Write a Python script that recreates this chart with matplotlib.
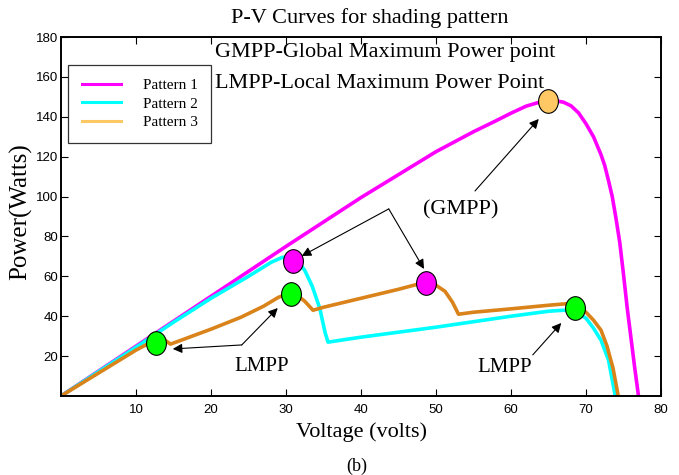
import matplotlib

matplotlib.use("Agg")
import matplotlib.pyplot as plt
from matplotlib.lines import Line2D
from matplotlib.path import Path
from matplotlib.transforms import Affine2D

# ── Data ──────────────────────────────────────────────────────
v1 = [0, 10, 20, 30, 40, 45, 50, 55, 58, 60, 62, 63.5, 65, 66, 67, 68, 69, 70,
      71, 72, 72.5, 73, 73.5, 74, 74.5, 75, 75.5, 76, 76.5, 77]
p1 = [0, 25, 50, 75, 99.5, 111, 122.5, 132.5, 138, 141.8, 145.3, 147, 148, 148, 147.3,
      145.5, 142, 136.5, 130, 121, 115.5, 108, 100, 89, 77, 61, 44, 29, 14, 0]

v2 = [0, 10, 15, 20, 25, 28, 29.5, 30.5, 31.5, 32.5, 33.5, 34.5, 35.2, 35.6,
      40, 50, 60, 65, 67, 68.5, 70, 71, 72, 73, 73.9]
p2 = [0, 24.5, 37, 49, 60, 67, 69.5, 69.8, 68, 63, 55, 44, 32, 27,
      29.5, 34.5, 40, 42.5, 43, 42.5, 39, 34, 28, 18, 0]

v3 = [0, 5, 10, 12.5, 13.5, 14.6, 20, 24, 27, 29, 30.5, 31.5, 32.5, 33.6,
      35, 40, 45, 47.5, 48.7, 50, 51.2, 52.2, 53, 55, 60, 65, 67.5, 68.5,
      70, 71, 72, 72.8, 73.6, 74.3]
p3 = [0, 11.5, 23, 28, 29, 26, 33.5, 39.5, 45, 49.5, 51.5, 50.5, 47.5, 43,
      44.5, 49, 53.5, 56, 56.8, 55.5, 52.5, 47, 41, 42, 43.7, 45.5, 46.3, 46,
      42, 38, 33, 25, 14, 0]

lmpp_v = [12.6, 30.6, 68.5]
lmpp_p = [26.8, 51.3, 44.3]
mag_v = [30.9, 48.7]
mag_p = [67.8, 56.7]
gmpp_v = [64.9]
gmpp_p = [147.9]

series_names = ["Pattern 1", "Pattern 2", "Pattern 3"]
line_colors = ["#FF00FF", "#00FFFF", "#D9831A"]
legend_colors = ["#FF00FF", "#00FFFF", "#FFC864"]

SERIF = ["Liberation Serif", "DejaVu Serif"]
NARROW = ["Liberation Sans Narrow", "Liberation Sans", "DejaVu Sans"]

fig = plt.figure(figsize=(6.79, 4.75), dpi=100)
ax = fig.add_axes([61 / 679, 79 / 475, 600 / 679, 359 / 475])

for v, p, c in zip([v1, v2, v3], [p1, p2, p3], line_colors):
    ax.plot(v, p, color=c, lw=2.6, solid_joinstyle="round", zorder=2)

# slightly tall ellipse marker, like the reference
ell = Path.unit_circle().transformed(Affine2D().scale(0.84, 1.0))
mk = dict(marker=ell, markersize=17, markeredgecolor="black", markeredgewidth=0.8,
          linestyle="none", zorder=5)
ax.plot(lmpp_v, lmpp_p, markerfacecolor="#00FF00", **mk)
ax.plot(mag_v, mag_p, markerfacecolor="#FF00FF", **mk)
ax.plot(gmpp_v, gmpp_p, markerfacecolor="#FFC864", **mk)

ax.set_xlim(0, 80)
ax.set_ylim(0, 180)
ax.set_xticks(range(10, 81, 10))
ax.set_yticks(range(20, 181, 20))
ax.tick_params(direction="in", top=True, right=True, length=5, width=0.8,
               labelsize=9.5)
ax.tick_params(axis="x", pad=6)
ax.tick_params(axis="y", pad=2)
for lab in ax.get_xticklabels() + ax.get_yticklabels():
    lab.set_family(NARROW)
for s in ax.spines.values():
    s.set_linewidth(1.4)

ax.set_xlabel("Voltage (volts)", family=SERIF, fontsize=16, labelpad=4)
fig.text(21 / 679, 1 - 212 / 475, "Power(Watts)", family=SERIF, fontsize=18,
         rotation=90, ha="center", va="center")

# ── Annotations ───────────────────────────────────────────────
arrow = dict(arrowstyle="-|>", color="black", lw=0.8, mutation_scale=14,
             shrinkA=0, shrinkB=0)
ax.annotate("", xy=(63.7, 138.9), xytext=(55.2, 102.8), arrowprops=arrow)
ax.text(53.3, 93.3, "(GMPP)", family=SERIF, fontsize=16, ha="center", va="center")

ax.annotate("", xy=(32.1, 70.2), xytext=(43.7, 93.8), arrowprops=arrow)
ax.annotate("", xy=(48.4, 63.7), xytext=(43.7, 93.8), arrowprops=arrow)

ax.annotate("", xy=(14.9, 23.6), xytext=(24.1, 25.6), arrowprops=arrow)
ax.annotate("", xy=(28.9, 44.1), xytext=(24.1, 25.6), arrowprops=arrow)
ax.text(26.8, 15, "LMPP", family=SERIF, fontsize=15, ha="center", va="center")

ax.annotate("", xy=(66.7, 36.6), xytext=(62.9, 20.6), arrowprops=arrow)
ax.text(59.2, 14.5, "LMPP", family=SERIF, fontsize=15, ha="center", va="center")

fig.text(370 / 679, 1 - 18 / 475, "P-V Curves for shading pattern", family=SERIF,
         fontsize=16, ha="center", va="center")
fig.text(215 / 679, 1 - 52 / 475, "GMPP-Global Maximum Power point", family=SERIF,
         fontsize=16, ha="left", va="center")
fig.text(215 / 679, 1 - 84 / 475, "LMPP-Local Maximum Power Point", family=SERIF,
         fontsize=16, ha="left", va="center")
fig.text(357 / 679, 1 - 466 / 475, "(b)", family=SERIF, fontsize=13,
         ha="center", va="center")

handles = [Line2D([], [], color=c, lw=2.2) for c in legend_colors]
leg = ax.legend(handles, series_names, loc="upper left",
                bbox_to_anchor=(68 / 679, 1 - 65 / 475),
                bbox_transform=fig.transFigure,
                prop={"family": SERIF, "size": 11}, frameon=True, fancybox=False,
                borderpad=0.9, handlelength=2.6, handletextpad=1.4,
                labelspacing=0.3, borderaxespad=0)
leg.get_frame().set_edgecolor("black")
leg.get_frame().set_linewidth(0.9)

fig.savefig("out.png", dpi=100)
